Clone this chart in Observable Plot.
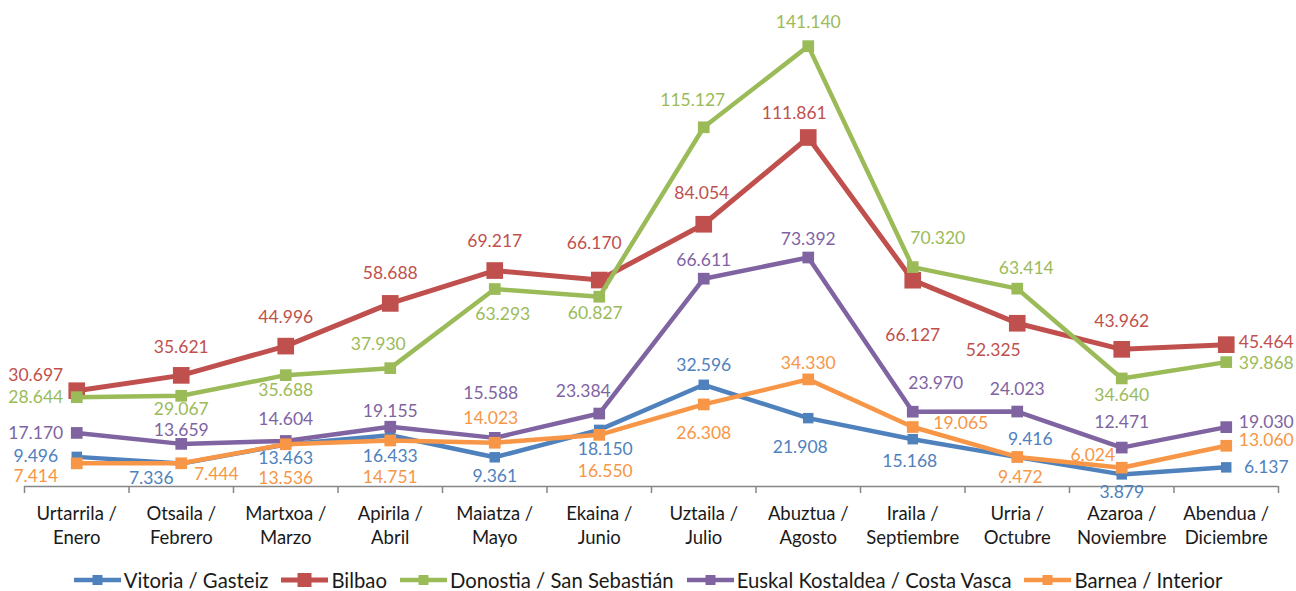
<!DOCTYPE html>
<html><head><meta charset="utf-8">
<script src="https://cdn.jsdelivr.net/npm/d3@7"></script>
<script src="https://cdn.jsdelivr.net/npm/@observablehq/plot@0.6"></script>
<style>
html,body{margin:0;padding:0;background:#fff;overflow:hidden;}
#chart{width:1296px;height:558px;}
.legend{display:flex;justify-content:center;align-items:center;font-family:Lato,"Open Sans",sans-serif;font-size:20.3px;color:#1a1a1a;padding-top:7px;height:30px;white-space:nowrap;}
.legend .item{display:flex;align-items:center;margin:0 6.5px;}
.legend svg{margin-right:3px;}
</style></head><body>
<div id="chart"></div>
<div class="legend" id="legend"></div>
<script>
// categories
const months = ["Urtarrila /\nEnero","Otsaila /\nFebrero","Martxoa /\nMarzo","Apirila /\nAbril","Maiatza /\nMayo","Ekaina /\nJunio","Uztaila /\nJulio","Abuztua /\nAgosto","Iraila /\nSeptiembre","Urria /\nOctubre","Azaroa /\nNoviembre","Abendua /\nDiciembre"];
// series names
const seriesNames = ["Vitoria / Gasteiz","Bilbao","Donostia / San Sebastián","Euskal Kostaldea / Costa Vasca","Barnea / Interior"];
// series values
const vitoria  = [9496, 7336, 13463, 16433, 9361, 18150, 32596, 21908, 15168, 9416, 3879, 6137];
const bilbao   = [30697, 35621, 44996, 58688, 69217, 66170, 84054, 111861, 66127, 52325, 43962, 45464];
const donostia = [28644, 29067, 35688, 37930, 63293, 60827, 115127, 141140, 70320, 63414, 34640, 39868];
const costa    = [17170, 13659, 14604, 19155, 15588, 23384, 66611, 73392, 23970, 24023, 12471, 19030];
const interior = [7414, 7444, 13536, 14751, 14023, 16550, 26308, 34330, 19065, 9472, 6024, 13060];

// styles
const colors = ["#4F81BD","#C0504D","#9BBB59","#8064A2","#F79646"];
const markerR = [5.9, 9.4, 6.6, 6.6, 6.6];
const lineW = [4.5, 5, 4.5, 4.5, 4.5];
// label placement offsets (px) relative to each point
const vitoriaLbl  = [[-41,0],[-30,15],[0,14],[0,21],[0,19],[6,20],[0,-19],[-8,29],[-3,22],[13,-18],[0,18],[40,0]];
const bilbaoLbl   = [[-41,-15],[0,-28],[0,-29],[0,-30],[0,-29],[-5,-37],[-2,-31],[-14,-24],[0,55],[-24,27],[0,-28],[40,-2]];
const donostiaLbl = [[-41,0],[0,14],[0,15],[-12,-24],[8,25],[-4,17],[-11,-27],[0,-24],[25,-29],[9,-20],[0,17],[40,1]];
const costaLbl    = [[-41,0],[0,-13],[0,-22],[0,-15],[-4,-44],[-16,-22],[0,-18],[0,-18],[23,-28],[0,-22],[0,-25],[40,-5]];
const interiorLbl = [[-41,13],[35,11],[0,34],[0,37],[-4,-24],[6,37],[0,29],[0,-16],[48,-4],[3,20],[-29,-12],[40,-5]];

const seriesValues = [vitoria, bilbao, donostia, costa, interior];
const seriesLabels = [vitoriaLbl, bilbaoLbl, donostiaLbl, costaLbl, interiorLbl];

const fmt = d3.formatLocale({decimal:",", thousands:".", grouping:[3], currency:["","€"]}).format(",d");

const font = "Lato, 'Open Sans', sans-serif";
const marks = [];
const boundaries = d3.range(months.length + 1);

// axis line and boundary ticks
marks.push(Plot.ruleY([0], {stroke:"#868686", strokeWidth:1.5}));
marks.push(Plot.axisX({ticks: boundaries, tickSize: 7, tickFormat: () => "", label: null, stroke:"#868686", strokeWidth:1.5}));
marks.push(Plot.axisX({ticks: months.map((m,i) => i + 0.5), tickSize: 0, tickPadding: 16, label: null, tickFormat: v => months[Math.floor(v)], fontSize: 18.5, lineHeight: 1.3, fill:"#1a1a1a"}));

seriesValues.forEach((vals, s) => {
  const data = vals.map((v, i) => ({i: i + 0.5, v}));
  marks.push(Plot.line(data, {x:"i", y:"v", stroke: colors[s], strokeWidth: lineW[s], strokeLinejoin:"round"}));
  marks.push(Plot.dot(data, {x:"i", y:"v", symbol:"square", r: markerR[s], fill: colors[s], stroke:"none"}));
});
seriesValues.forEach((vals, s) => {
  vals.forEach((v, i) => {
    const [dx, dy] = seriesLabels[s][i];
    marks.push(Plot.text([{i: i + 0.5, v}], {x:"i", y:"v", text: d => fmt(d.v), dx, dy, fill: colors[s], fontSize: 17.5, textAnchor:"middle", lineAnchor:"middle"}));
  });
});

const chart = Plot.plot({
  width: 1296,
  height: 558,
  marginLeft: 24,
  marginRight: 18,
  marginTop: 18,
  marginBottom: 72,
  style: {fontFamily: font, background:"#fff", overflow:"visible"},
  x: {type:"linear", domain:[0, months.length], axis: null, label: null},
  y: {domain:[0, 150000], axis: null, label: null},
  marks
});
document.getElementById("chart").appendChild(chart);

// legend
const legend = document.getElementById("legend");
seriesNames.forEach((name, s) => {
  const item = document.createElement("div");
  item.className = "item";
  const sz = s === 1 ? 14 : 10;
  item.innerHTML = `<svg width="47" height="20"><line x1="0" y1="10" x2="47" y2="10" stroke="${colors[s]}" stroke-width="${lineW[s]}"/><rect x="${23.5 - sz/2}" y="${10 - sz/2}" width="${sz}" height="${sz}" fill="${colors[s]}"/></svg><span>${name}</span>`;
  legend.appendChild(item);
});
</script>
</body></html>
